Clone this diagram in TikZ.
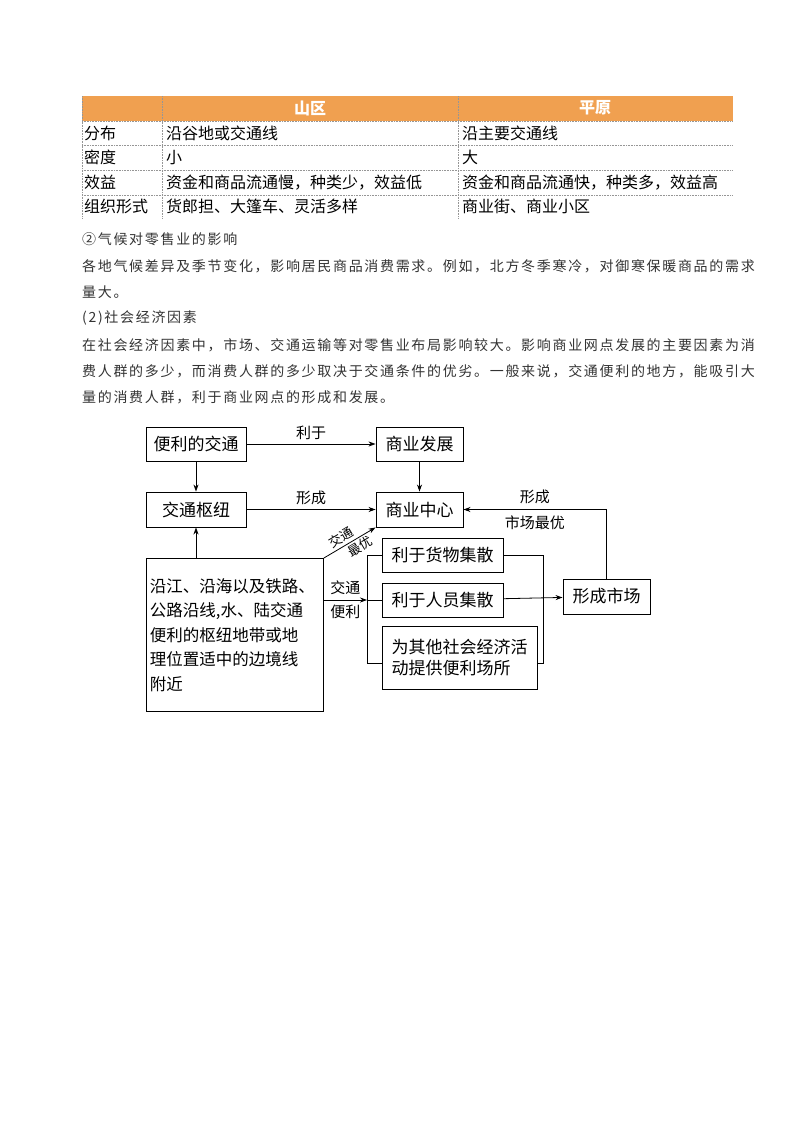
\documentclass[tikz,border=0pt]{standalone}
\usepackage{fontspec}
\setmainfont{Noto Sans CJK SC}
\newfontfamily\cjkt[LetterSpace=12]{Noto Sans CJK SC}
\usetikzlibrary{arrows.meta}
\definecolor{hdr}{RGB}{240,160,80}
\definecolor{grid}{RGB}{150,150,150}
\begin{document}
\begin{tikzpicture}[x=1pt,y=-1pt,
  bx/.style={draw,line width=0.9pt,inner sep=0pt,font=\fontsize{17}{21}\selectfont},
  ar/.style={-{Stealth[length=7pt,width=5pt]},line width=0.8pt},
  ln/.style={line width=0.8pt},
  lab/.style={font=\fontsize{15}{17}\selectfont,inner sep=1pt},
  dlab/.style={font=\fontsize{13}{14}\selectfont,inner sep=0pt,sloped},
  tt/.style={anchor=west,font=\fontsize{16}{18}\selectfont,inner sep=0pt},
  para/.style={anchor=west,font=\cjkt\fontsize{14}{16}\selectfont,inner sep=0pt,text=black!80}]
\useasboundingbox[fill=white] (0,0) rectangle (800,1132);
% table
\fill[hdr] (82,96) rectangle (733,121);
\node[font=\bfseries\fontsize{16}{18}\selectfont,text=white] (h1) at (310,108) {山区};
\node[font=\bfseries\fontsize{16}{18}\selectfont,text=white] (h2) at (595,108) {平原};
\foreach \y in {121,145,170,195}{\draw[grid,densely dotted,line width=0.6pt] (82,\y) -- (733,\y);}
\foreach \x in {82,162,458}{\draw[grid,densely dotted,line width=0.6pt] (\x,96) -- (\x,218);}
\node[tt] (a1) at (84,133) {分布};
\node[tt] (a2) at (84,157.5) {密度};
\node[tt] (a3) at (84,182.5) {效益};
\node[tt] (a4) at (84,206.5) {组织形式};
\node[tt] (b1) at (166,133) {沿谷地或交通线};
\node[tt] (b2) at (166,157.5) {小};
\node[tt] (b3) at (166,182.5) {资金和商品流通慢，种类少，效益低};
\node[tt] (b4) at (166,206.5) {货郎担、大篷车、灵活多样};
\node[tt] (c1) at (462,133) {沿主要交通线};
\node[tt] (c2) at (462,157.5) {大};
\node[tt] (c3) at (462,182.5) {资金和商品流通快，种类多，效益高};
\node[tt] (c4) at (462,206.5) {商业街、商业小区};
% text
\node[para] (p1) at (82,239) {②气候对零售业的影响};
\node[para] (p2) at (82,266) {各地气候差异及季节变化，影响居民商品消费需求。例如，北方冬季寒冷，对御寒保暖商品的需求};
\node[para] (p3) at (82,292) {量大。};
\node[para] (p4) at (82,318) {(2)社会经济因素};
\node[para] (p5) at (82,345) {在社会经济因素中，市场、交通运输等对零售业布局影响较大。影响商业网点发展的主要因素为消};
\node[para] (p6) at (82,371) {费人群的多少，而消费人群的多少取决于交通条件的优劣。一般来说，交通便利的地方，能吸引大};
\node[para] (p7) at (82,397) {量的消费人群，利于商业网点的形成和发展。};
% diagram
\node[bx,minimum width=100pt,minimum height=34pt] (bj) at (196,444) {便利的交通};
\node[bx,minimum width=87pt,minimum height=34pt] (sf) at (419.5,444) {商业发展};
\node[bx,minimum width=100pt,minimum height=35pt] (jt) at (196,509.5) {交通枢纽};
\node[bx,minimum width=87pt,minimum height=35pt] (sz) at (419.5,509.5) {商业中心};
\node[bx,minimum width=177pt,minimum height=153pt,anchor=north west,align=left,text width=170pt,font=\fontsize{16.5}{24.5}\selectfont] (big) at (146,558) {沿江、沿海以及铁路、\\公路沿线,水、陆交通\\便利的枢纽地带或地\\理位置适中的边境线\\附近};
\node[bx,minimum width=121pt,minimum height=34pt] (hw) at (442.5,555) {利于货物集散};
\node[bx,minimum width=121pt,minimum height=34pt] (ry) at (442.5,600) {利于人员集散};
\node[bx,minimum width=155pt,minimum height=63pt,align=left] (qt) at (459.5,657.5) {为其他社会经济活\\动提供便利场所};
\node[bx,minimum width=87pt,minimum height=35pt] (sc) at (606.5,596.5) {形成市场};
\coordinate (bl) at (367,600);
\draw[ar] (bj) -- node[lab,above=3pt]{利于} (sf);
\draw[ar] (bj) -- (jt);
\draw[ar] (sf) -- (sz);
\draw[ar] (jt) -- node[lab,above=3pt]{形成} (sz);
\draw[ar] (big.north-|jt) -- (jt);
\draw[ar] (big.north east) -- node[dlab,pos=0.42,above=2.5pt]{交通} node[dlab,pos=0.62,below=2.5pt]{最优} (sz.south west);
\draw[ar] (big.east|-bl) -- node[lab,above=4pt]{交通} node[lab,below=4pt]{便利} (bl);
\draw[ln] (hw.west) -| (367,663) -- (qt.west|-0,663);
\draw[ln] (bl) -- (ry.west);
\draw[ln] (hw.east) -| (543,663) -- (qt.east|-0,663);
\draw[ar] (ry) -- (sc);
\draw[ar] (sc.north) |- node[lab,pos=0.75,above=4pt]{形成} node[lab,pos=0.75,below=5pt]{市场最优} (sz.east);
\end{tikzpicture}
\end{document}
